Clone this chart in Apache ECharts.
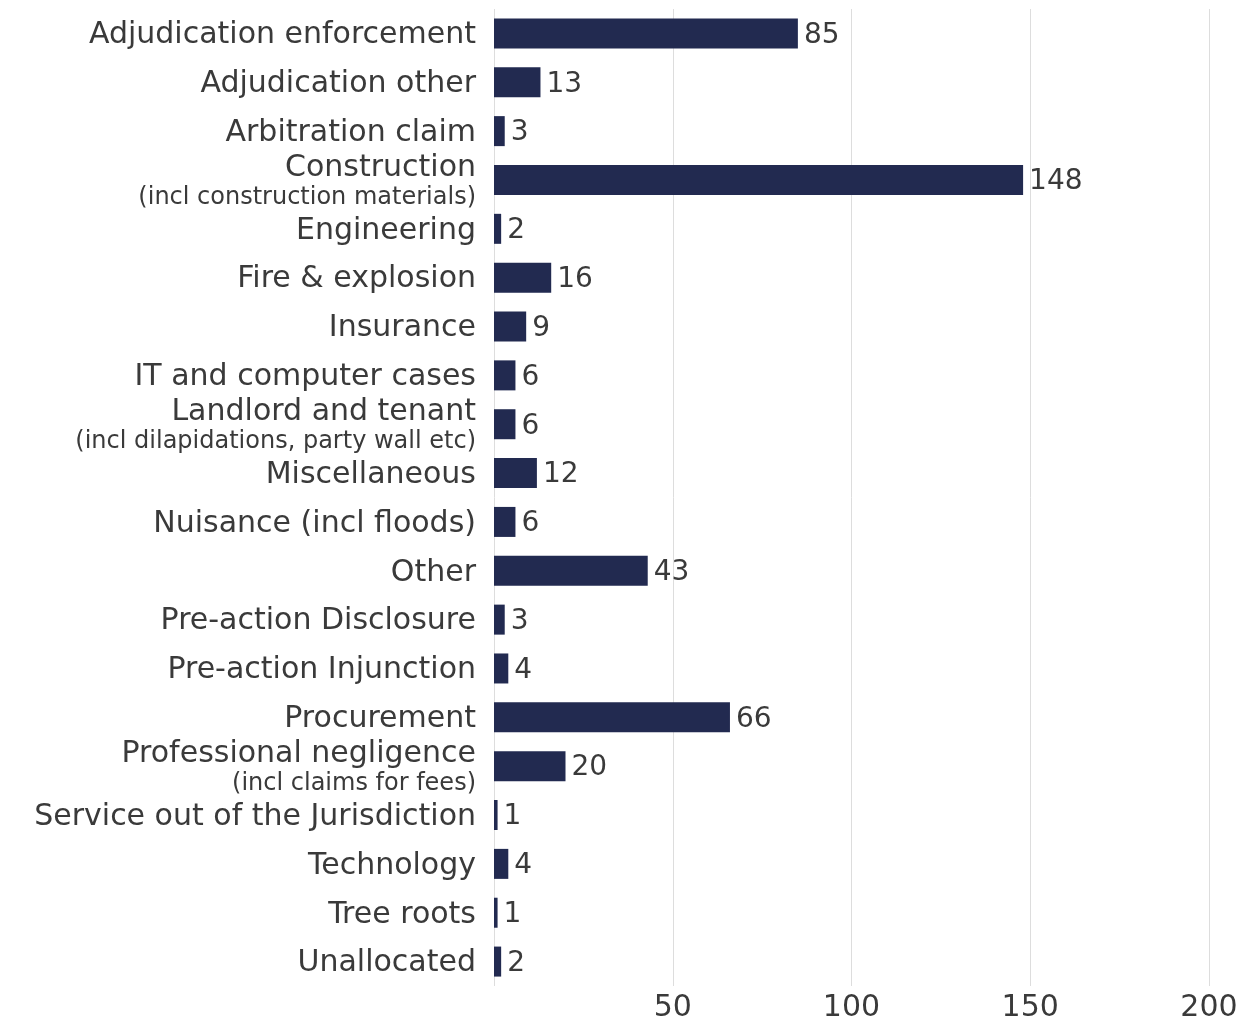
<!DOCTYPE html>
<html>
<head>
<meta charset="utf-8">
<style>
  html, body { margin: 0; padding: 0; background: #fff; }
  #chart { width: 1252px; height: 1023px; }
</style>
<script src="https://cdn.jsdelivr.net/npm/echarts@6/dist/echarts.min.js"></script>
</head>
<body>
<div id="chart"></div>
<script>
// Case categories: main name and optional smaller qualifier line
const categories = [
  'Adjudication enforcement',
  'Adjudication other',
  'Arbitration claim',
  'Construction',
  'Engineering',
  'Fire & explosion',
  'Insurance',
  'IT and computer cases',
  'Landlord and tenant',
  'Miscellaneous',
  'Nuisance (incl floods)',
  'Other',
  'Pre-action Disclosure',
  'Pre-action Injunction',
  'Procurement',
  'Professional negligence',
  'Service out of the Jurisdiction',
  'Technology',
  'Tree roots',
  'Unallocated'
];
const qualifiers = {
  'Construction': '(incl construction materials)',
  'Landlord and tenant': '(incl dilapidations, party wall etc)',
  'Professional negligence': '(incl claims for fees)'
};
const caseCounts = [85, 13, 3, 148, 2, 16, 9, 6, 6, 12, 6, 43, 3, 4, 66, 20, 1, 4, 1, 2];
const tickValues = [50, 100, 150, 200];

const FONT = 'DejaVu Sans';
const TEXT = '#3a3a3a';
const BAR = '#222a50';

const chart = echarts.init(document.getElementById('chart'), null, { renderer: 'canvas' });
chart.setOption({
  animation: false,
  backgroundColor: '#ffffff',
  grid: { left: 494, right: 43, top: 9, bottom: 35, containLabel: false },
  xAxis: {
    type: 'value',
    min: 0,
    max: 200,
    interval: 50,
    axisLine: { show: false },
    axisTick: { show: false },
    splitLine: { show: true, lineStyle: { color: '#dddddd', width: 1 } },
    axisLabel: {
      margin: 7,
      fontFamily: FONT,
      fontSize: 30,
      color: TEXT,
      formatter: v => tickValues.includes(v) ? String(v) : ''
    }
  },
  yAxis: {
    type: 'category',
    inverse: true,
    data: categories,
    axisLine: { show: false },
    axisTick: { show: false },
    axisLabel: {
      margin: 18,
      padding: [4, 0, 0, 0],
      fontFamily: FONT,
      color: TEXT,
      formatter: name => qualifiers[name]
        ? '{m|' + name + '}\n{s|' + qualifiers[name] + '}'
        : '{m|' + name + '}',
      rich: {
        m: { fontFamily: FONT, fontSize: 30, color: TEXT, lineHeight: 32, align: 'right' },
        s: { fontFamily: FONT, fontSize: 24, color: TEXT, lineHeight: 28, align: 'right' }
      }
    }
  },
  series: [{
    type: 'bar',
    data: caseCounts,
    barWidth: 30,
    itemStyle: { color: BAR },
    label: {
      show: true,
      position: 'right',
      distance: 6,
      offset: [0, 2],
      fontFamily: FONT,
      fontSize: 28,
      color: TEXT
    }
  }]
});
</script>
</body>
</html>
